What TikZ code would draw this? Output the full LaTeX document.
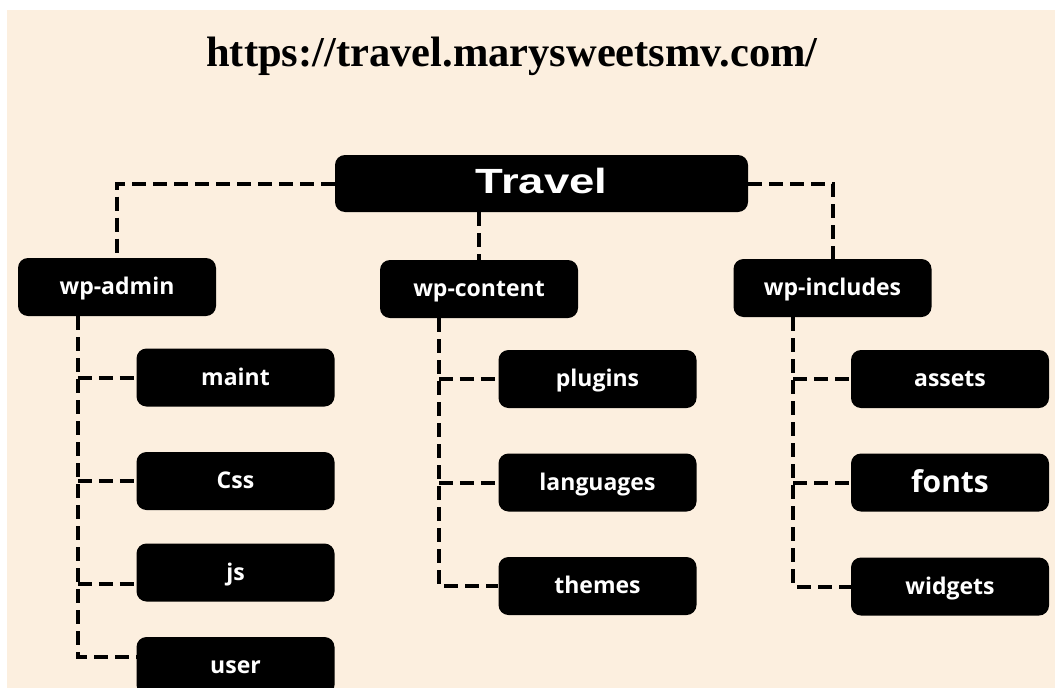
\documentclass[tikz,border=0pt]{standalone}
\usepackage{fontspec}
\setmainfont{Liberation Serif}
\newfontfamily\boxfont{Open Sans}
\newfontfamily\rootfont{Liberation Sans}
\usetikzlibrary{positioning}
\definecolor{cream}{HTML}{FCEFDF}

\begin{document}
\begin{tikzpicture}[x=1pt,y=-1pt,
    folder/.style={fill=black,text=white,rounded corners=10pt,minimum width=198pt,minimum height=58pt,inner sep=0pt,text height=15pt,text depth=0pt,font=\boxfont\bfseries\fontsize{23}{26}\selectfont},
    link/.style={line width=4pt,dash pattern=on 14pt off 7pt}]
            \useasboundingbox (0,0) rectangle (1055,688);
            \fill[white] (0,0) rectangle (1055,688);
            \fill[cream] (7,10) rectangle (1055,688);

            \node[anchor=base,font=\bfseries\fontsize{42.5}{46}\selectfont] (url) at (512,66) {https://travel.marysweetsmv.com/};

            \node[folder,minimum width=413pt,minimum height=57pt,text height=19pt,font=\rootfont\bfseries\fontsize{35}{40}\selectfont] (travel) at (541.5,183.5) {\scalebox{1.3}[1]{Travel}};

            \node[folder] (admin) at (117,287) {wp-admin};
            \node[folder] (content) at (479,289) {wp-content};
            \node[folder] (includes) at (832.5,288) {wp-includes};

            \node[folder] (maint) at (235.5,377.5) {maint};
            \node[folder] (css) at (235.5,481) {Css};
            \node[folder] (js) at (235.5,572.5) {js};
            \node[folder] (user) at (235.5,666) {user};

            \node[folder] (plugins) at (597.5,379) {plugins};
            \node[folder] (languages) at (597.5,482.5) {languages};
            \node[folder] (themes) at (597.5,586) {themes};

            \node[folder] (assets) at (950,379) {assets};
            \node[folder,text height=19pt,font=\boxfont\bfseries\fontsize{30}{34}\selectfont] (fonts) at (950,482.5) {fonts};
            \node[folder] (widgets) at (950,586.5) {widgets};

            \draw[link] (travel.west) -| (admin.north);
            \draw[link] (travel.east) -| (includes.north);
            \draw[link] (content.north |- travel.south) -- (content.north);

            \coordinate (adminT) at ([xshift=60pt]admin.south west);
            \coordinate (contentT) at ([xshift=59pt]content.south west);
            \coordinate (includesT) at ([xshift=60pt]includes.south west);
            \coordinate (jsIn) at ([yshift=-11pt]js.west);
            \coordinate (userIn) at ([yshift=9pt]user.west);

            \draw[link] (adminT) |- (userIn);
            \draw[link] (adminT |- maint.west) -- (maint.west);
            \draw[link] (adminT |- css.west) -- (css.west);
            \draw[link] (adminT |- jsIn) -- (jsIn);

            \draw[link] (contentT) |- (themes.west);
            \draw[link] (contentT |- plugins.west) -- (plugins.west);
            \draw[link] (contentT |- languages.west) -- (languages.west);

            \draw[link] (includesT) |- (widgets.west);
            \draw[link] (includesT |- assets.west) -- (assets.west);
            \draw[link] (includesT |- fonts.west) -- (fonts.west);
        \end{tikzpicture}
\end{document}
